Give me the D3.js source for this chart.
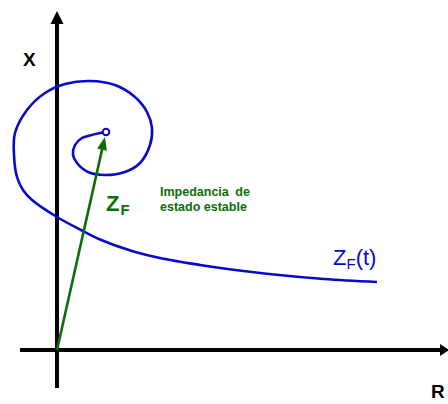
<!DOCTYPE html>
<html>
<head>
<meta charset="utf-8">
<script src="https://cdn.jsdelivr.net/npm/d3@7"></script>
<style>
  html, body { margin: 0; padding: 0; background: #fff; }
  svg { display: block; font-family: Arial, "Liberation Sans", sans-serif; }
</style>
</head>
<body>
<svg id="chart" width="448" height="404"></svg>
<script>
// Locus of the fault impedance Z_F(t) in the R-X plane (arbitrary units)
const traceR = [4.9, 4.3, 3.1, 2.5, 1.8, 1.6, 2.0, 3.1, 4.8, 6.8, 8.3, 9.3, 9.5, 9.0, 7.8, 5.8, 3.3, 0.8, -1.2, -3.0, -4.2, -4.3, -4.0, -3.4, -2.5, 0.0, 2.4, 4.3, 7.5, 10.3, 14.3, 16.7, 21.7, 26.7, 32.0];
const traceX = [21.8, 21.7, 21.4, 21.2, 20.5, 19.5, 18.7, 17.8, 17.5, 17.8, 18.7, 20.5, 22.2, 23.8, 25.3, 26.5, 26.9, 26.6, 25.7, 24.0, 21.7, 19.5, 17.3, 16.0, 15.0, 13.3, 12.0, 11.05, 9.9, 9.2, 8.5, 8.15, 7.55, 7.1, 6.8];

// Steady-state impedance (end point of the spiral)
const steadyR = [4.9];
const steadyX = [21.8];

// Axis extents
const axisR = [-3.7, 39.2];
const axisX = [-3.8, 33.9];

const labels = {
  xAxis: "X",
  rAxis: "R",
  phasor: ["Z", "F"],
  trace: ["Z", "F", "(t)"],
  note: ["Impedancia de", "estado estable"]
};

const blue = "#0808cc";
const green = "#0a6e0a";

const svg = d3.select("#chart");

const x = d3.scaleLinear().domain([-3.7, 39.2]).range([20, 449]);
const y = d3.scaleLinear().domain([0, 34]).range([350, 10]);

// Axes
const axisG = svg.append("g");
axisG.append("line")
  .attr("x1", x(axisR[0])).attr("x2", x(axisR[1]) - 8)
  .attr("y1", y(0)).attr("y2", y(0))
  .attr("stroke", "#000").attr("stroke-width", 4);
axisG.append("path")
  .attr("d", `M${x(axisR[1])},${y(0)} L${x(axisR[1]) - 9},${y(0) - 6} L${x(axisR[1]) - 9},${y(0) + 6} Z`)
  .attr("fill", "#000");

axisG.append("line")
  .attr("x1", x(0)).attr("x2", x(0))
  .attr("y1", y(axisX[0])).attr("y2", y(axisX[1]) + 10)
  .attr("stroke", "#000").attr("stroke-width", 4);
axisG.append("path")
  .attr("d", `M${x(0)},${y(axisX[1])} L${x(0) - 6.5},${y(axisX[1]) + 13} L${x(0) + 6.5},${y(axisX[1]) + 13} Z`)
  .attr("fill", "#000");

axisG.append("text")
  .attr("x", 23).attr("y", 66)
  .attr("font-size", 19).attr("font-weight", "bold")
  .text(labels.xAxis);
axisG.append("text")
  .attr("x", 431).attr("y", 398)
  .attr("font-size", 19).attr("font-weight", "bold")
  .text(labels.rAxis);

// Spiral trace
const pts = traceR.map((r, i) => [r, traceX[i]]);
const line = d3.line()
  .x(d => x(d[0]))
  .y(d => y(d[1]))
  .curve(d3.curveCatmullRom.alpha(0.5));

svg.append("path")
  .datum(pts)
  .attr("d", line)
  .attr("fill", "none")
  .attr("stroke", blue)
  .attr("stroke-width", 2.6)
  .attr("stroke-linecap", "butt");

// Steady-state phasor arrow from the origin
const ox = x(0), oy = y(0);
const tx = x(steadyR[0]), ty = y(steadyX[0]);
const dx = tx - ox, dy = ty - oy;
const len = Math.hypot(dx, dy);
const ux = dx / len, uy = dy / len;
const tipDist = len - 5;
const tipX = ox + ux * tipDist, tipY = oy + uy * tipDist;
const headLen = 13, headW = 5;
const baseX = tipX - ux * headLen, baseY = tipY - uy * headLen;

svg.append("line")
  .attr("x1", ox).attr("y1", oy)
  .attr("x2", baseX + ux * 2).attr("y2", baseY + uy * 2)
  .attr("stroke", green).attr("stroke-width", 2.6);
svg.append("path")
  .attr("d", `M${tipX},${tipY} L${baseX - uy * headW},${baseY + ux * headW} L${baseX + uy * headW},${baseY - ux * headW} Z`)
  .attr("fill", green);

// Steady-state marker
svg.append("circle")
  .attr("cx", tx).attr("cy", ty).attr("r", 3.3)
  .attr("fill", "#fff").attr("stroke", blue).attr("stroke-width", 2);

// Phasor label
const zf = svg.append("text")
  .attr("x", 106).attr("y", 211)
  .attr("fill", green).attr("font-weight", "bold").attr("font-size", 22);
zf.append("tspan").text(labels.phasor[0]);
zf.append("tspan").attr("font-size", 15).attr("dy", 4).attr("dx", 1).text(labels.phasor[1]);

// Note
const note = svg.append("text")
  .attr("fill", green).attr("font-weight", "bold").attr("font-size", 12.5);
note.append("tspan").attr("x", 160).attr("y", 196).attr("word-spacing", 3).text(labels.note[0]);
note.append("tspan").attr("x", 160).attr("y", 211).text(labels.note[1]);

// Trace label
const zt = svg.append("text")
  .attr("x", 333).attr("y", 265)
  .attr("fill", blue).attr("font-size", 22);
zt.append("tspan").text(labels.trace[0]);
zt.append("tspan").attr("font-size", 15).attr("dy", 4).text(labels.trace[1]);
zt.append("tspan").attr("dy", -4).text(labels.trace[2]);
</script>
</body>
</html>
